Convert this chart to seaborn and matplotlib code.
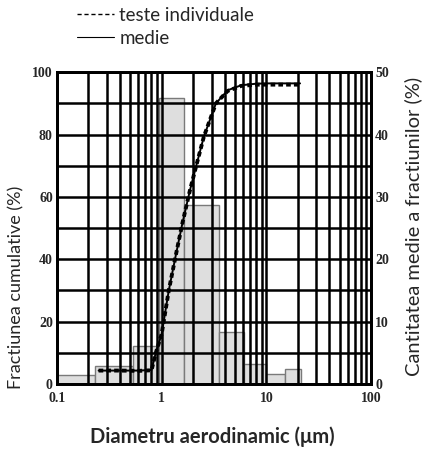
import numpy as np
import pandas as pd
import seaborn as sns
import matplotlib.pyplot as plt
from matplotlib.lines import Line2D
from matplotlib.ticker import LogLocator, FixedLocator, NullFormatter

sns.set_style('white')
plt.rcParams['font.family'] = ['Lato', 'DejaVu Sans']

# histogram of mean fraction amounts (right axis, %)
bin_edges = [0.1, 0.23, 0.53, 0.95, 1.65, 3.55, 6.1, 10, 15, 21.5]
fraction_pct = [1.45, 2.9, 6.1, 45.9, 28.7, 8.4, 3.2, 1.55, 2.35]

# cumulative fraction curves (left axis, %)
diam = [0.25, 0.4, 0.6, 0.8, 0.88, 1.0, 1.17, 1.36, 1.58, 1.86, 2.13,
        2.53, 3.3, 4.28, 5.76, 8.0, 10.4, 15, 21]
cum_mean = [4.3, 4.3, 4.3, 4.5, 10, 16, 30, 41, 51.6, 62, 69.7,
            79.3, 90, 94.2, 95.8, 96.3, 96.4, 96.4, 96.4]
cum_tests = [4.3, 4.3, 4.2, 4.4, 10, 16, 30, 41, 51.6, 62, 69.7,
             79.3, 90, 94.0, 95.6, 96.0, 96.0, 96.0, 96.0]

df = pd.DataFrame({'d': diam, 'mean': cum_mean, 'tests': cum_tests})

fig = plt.figure(figsize=(4.25, 4.51), dpi=100)
ax = fig.add_axes([0.134, 0.1486, 0.739, 0.6914])
ax2 = ax.twinx()

# bars on the right axis, kept behind the grid of the left axis
ax.set_zorder(ax2.get_zorder() + 1)
ax.patch.set_visible(False)
ax2.bar(bin_edges[:-1], fraction_pct, width=np.diff(bin_edges), align='edge',
        color='#dedede', edgecolor='#7a7a7a', linewidth=1.0)

sns.lineplot(data=df, x='d', y='mean', ax=ax, color='black', linewidth=1.4)
sns.lineplot(data=df, x='d', y='tests', ax=ax, color='black', linewidth=2.8,
             linestyle=(0, (1.2, 0.8)))

ax.set_xscale('log')
ax.set_xlim(0.1, 100)
ax.set_ylim(0, 100)
ax2.set_ylim(0, 50)

ax.xaxis.set_major_locator(FixedLocator([0.1, 1, 10, 100]))
ax.set_xticklabels(['0.1', '1', '10', '100'])
ax.xaxis.set_minor_locator(LogLocator(base=10, subs=np.arange(2, 10)))
ax.xaxis.set_minor_formatter(NullFormatter())
ax.set_yticks(np.arange(0, 101, 20))
ax.yaxis.set_minor_locator(FixedLocator(np.arange(10, 100, 20)))
ax2.set_yticks(np.arange(0, 51, 10))

ax.grid(True, which='both', axis='both', color='black', linewidth=1.8)
ax.set_axisbelow(False)

tick_font = dict(family='Liberation Serif', weight='bold', size=10)
for a in (ax, ax2):
    a.tick_params(which='both', length=0, pad=3)
    for lbl in a.get_xticklabels() + a.get_yticklabels():
        lbl.set_fontproperties(tick_font)
    for s in a.spines.values():
        s.set_color('black')
        s.set_linewidth(2)
ax.tick_params(axis='x', pad=6)

ax.set_xlabel('')
ax.set_ylabel('Fractiunea cumulative (%)', fontsize=13)
ax.yaxis.set_label_coords(-0.102, 0.31)
ax2.set_ylabel('Cantitatea medie a fractiunilor (%)', fontsize=14.5)
ax2.yaxis.set_label_coords(1.105, 0.505)
fig.text(0.5, 0.031, 'Diametru aerodinamic (μm)', ha='center', va='center',
         fontsize=14.5, fontweight='bold')

handles = [Line2D([], [], color='black', linewidth=1, linestyle=(0, (3, 2))),
           Line2D([], [], color='black', linewidth=0.8)]
fig.legend(handles, ['teste individuale', 'medie'], loc='upper left',
           bbox_to_anchor=(0.181, 0.985), frameon=False, fontsize=13.5,
           borderpad=0, borderaxespad=0, handlelength=2.0,
           handletextpad=0.27, labelspacing=0.33)

fig.savefig('out.png', dpi=100)
